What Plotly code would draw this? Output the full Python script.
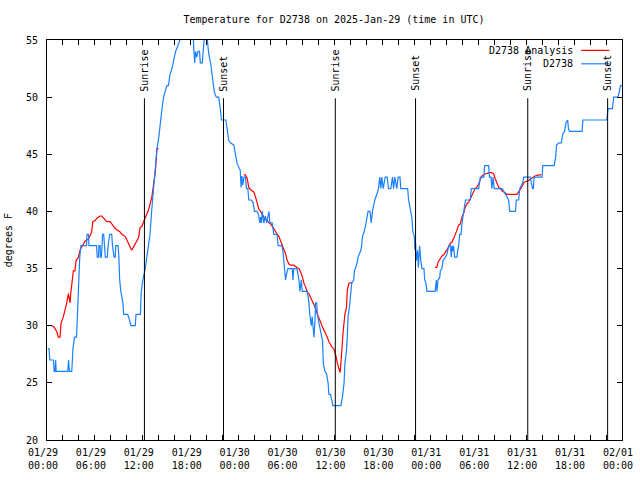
import datetime as dt
import plotly.graph_objects as go

START = dt.datetime(2025, 1, 29, 0, 0)

# Observed station temperatures (hours since 2025-01-29 00:00 UTC, degrees F)
obs_hours = [0.1, 0.25, 0.35, 0.8, 0.9, 1.0, 1.08, 1.15, 2.6, 2.7, 2.8, 3.1, 3.25, 3.45, 3.7, 3.8, 3.88, 3.95,
             4.1, 4.25, 4.95, 5.0, 5.2, 5.25, 6.2, 6.3, 6.45, 6.5, 6.65, 6.7, 6.8, 6.9, 6.95, 7.1, 7.2, 7.3,
             7.55, 7.65, 7.85, 8.1, 8.2, 8.4, 8.55, 8.6, 8.9, 9.0, 9.1, 9.25, 9.5, 9.6, 10.1, 10.3, 10.5,
             11.05, 11.15, 11.7, 11.8, 12.0, 12.3, 12.5, 12.7, 12.9, 13.1, 13.35, 13.55, 13.77, 14.0, 14.2,
             14.4, 14.6, 15.0, 15.2, 15.4, 15.65, 15.8, 16.1, 16.5, 16.7, 17.1, 17.6, 18.0, 18.3, 18.4, 18.5,
             18.6, 18.75, 18.9, 19.1, 19.2, 19.45, 19.55, 19.75, 20.0, 20.25, 20.5, 20.7, 20.85, 20.96, 21.2,
             21.5, 21.7, 21.84, 22.4, 22.55, 22.76, 22.97, 23.4, 23.6, 23.8, 24.2, 24.3, 24.4, 24.5, 24.65,
             24.85, 24.97, 25.15, 25.27, 25.56, 25.8, 25.98, 26.3, 26.5, 26.65, 26.75, 26.85, 26.95, 27.15,
             27.35, 27.5, 27.65, 27.8, 27.9, 28.2, 28.4, 28.8, 28.95, 29.4, 29.55, 29.66, 29.87, 29.99, 30.17,
             30.7, 30.8, 30.9, 31.3, 31.55, 31.67, 31.84, 31.97, 32.6, 32.8, 32.9, 33.1, 33.2, 33.35, 33.43,
             33.56, 33.62, 33.77, 33.85, 34.06, 34.27, 34.5, 34.6, 34.8, 35.0, 35.2, 35.3, 35.5, 35.8, 36.8,
             37.0, 37.2, 37.3, 37.5, 37.6, 37.7, 37.9, 38.0, 38.15, 38.4, 38.5, 38.8, 38.95, 39.3, 39.4, 39.5,
             39.7, 39.9, 40.0, 40.2, 40.45, 40.6, 40.75, 40.9, 41.05, 41.4, 41.5, 41.67, 41.8, 41.92, 42.1,
             42.35, 42.6, 42.76, 43.05, 43.26, 43.4, 43.55, 43.8, 43.97, 44.2, 44.3, 45.16, 45.28, 45.5, 45.7,
             45.8, 45.99, 46.07, 46.15, 46.24, 46.4, 46.5, 46.66, 46.8, 46.95, 47.2, 47.3, 47.45, 47.58, 48.6,
             48.75, 48.83, 48.96, 49.17, 49.25, 49.45, 49.58, 49.9, 50.1, 50.3, 50.5, 50.63, 50.7, 50.84, 50.9,
             51.05, 51.34, 51.42, 51.55, 51.67, 51.84, 51.97, 52.2, 52.4, 53.0, 53.13, 54.05, 54.26, 54.7,
             54.8, 55.3, 55.4, 55.6, 55.7, 55.85, 56.0, 57.0, 57.8, 57.94, 58.65, 58.77, 59.06, 59.2, 59.56,
             59.7, 60.5, 60.65, 60.8, 60.9, 61.0, 62.0, 62.07, 63.5, 63.7, 63.8, 64.1, 64.4, 64.6, 64.8, 65.0,
             65.2, 65.3, 65.45, 67.0, 67.1, 70.1, 70.25, 70.8, 70.97, 71.5, 71.7, 71.8, 72.0]
obs_temps = [28, 28, 27, 27, 26, 26, 27, 26, 26, 27, 26, 26, 28, 29, 29, 31, 33, 34,
             36, 37, 37, 38, 38, 37, 37, 36, 36, 37, 37, 36, 36, 37, 38, 38, 37, 36,
             36, 37, 38, 38, 37, 36, 36, 37, 37, 36, 34, 33, 32, 31, 31, 30.6, 30,
             30, 31, 31, 33, 34, 35, 36, 37, 38, 40, 42, 44, 45.5, 46.5, 48,
             49, 50, 51, 51, 52, 52.5, 53, 54, 54.7, 55.2, 56, 57, 56, 55.5, 54, 53,
             54, 53.5, 54, 54, 53, 53, 54, 55.5, 55.5, 53.8, 52.9, 52, 51.3, 50.4, 50,
             50, 49, 48, 48, 47.2, 46.2, 46, 45.8, 45, 44.2, 43.6, 42.1, 43.1, 42.3, 43,
             43, 42, 42, 41, 41, 40.8, 40, 40, 39.7, 39, 39.5, 39, 40, 39,
             39.6, 39, 39.5, 40, 39, 39, 38, 38, 37, 37, 36.5, 35.4, 34, 34.5, 35,
             35, 34, 35, 35, 34, 33, 34, 33, 33, 32, 31, 30, 30.8, 29.7, 29,
             30.5, 32, 32, 31, 30.2, 29.6, 28.7, 26.7, 26, 25.8, 25, 24, 24, 23, 23,
             23.8, 25, 26.7, 27.8, 29, 30.8, 31.8, 32.8, 33.7, 34, 34.8, 35.4, 36, 36.6, 37, 37.8,
             38.2, 38.8, 39.2, 40, 40, 39, 40, 40.7, 41, 41.7, 42, 43, 42, 43, 42,
             43, 43, 42, 42, 43, 42, 43, 42, 43, 43, 42, 42, 41, 40, 39.4,
             38.3, 37.8, 36.6, 37.2, 35.7, 36.6, 35.1, 37, 35.7, 35, 35, 34, 33.7, 33, 33,
             34, 33, 34, 34.2, 34.8, 35, 35.7, 36, 36.3, 37, 37, 36, 37, 36.5, 37,
             36, 36, 36.6, 37, 38, 38, 39, 40, 41, 41, 42, 42, 43, 43,
             44, 44, 43, 43, 42, 43, 42, 42, 41, 40, 40, 41, 41, 42, 42.5,
             43, 43, 42.5, 42, 42, 43, 43, 44, 44, 44.8, 45.8, 46, 46, 46.8, 47, 47.8,
             48, 47.2, 47, 47, 48, 48, 49, 49, 50, 50, 50.6, 51, 51]

# Analysis temperatures (None = no analysis value)
ana_hours = [0.59, 0.88, 1.21, 1.42, 1.63, 1.76, 2.05, 2.26, 2.47, 2.68, 2.89, 2.97, 3.1, 3.3, 3.5, 3.64,
             3.93, 4.14, 4.35, 4.56, 4.77, 4.98, 5.19, 5.4, 5.6, 5.73, 6.03, 6.23, 6.44, 6.65, 6.86, 7.07,
             7.28, 7.49, 7.9, 8.1, 8.33, 8.54, 8.74, 9.16, 9.37, 9.58, 9.8, 10.0, 10.2, 10.4, 10.6, 10.84,
             11.05, 11.26, 11.46, 11.67, 11.88, 12.1, 12.3, 12.5, 12.7, 12.93, 13.14, 13.35, 13.56, 13.77,
             13.97, 19.0,
             24.64, 24.85, 25.06, 25.27, 25.48, 25.69, 25.9, 26.1, 26.3, 26.53, 26.74, 27.15, 27.57, 28.0,
             28.4, 28.6, 28.83, 29.04, 29.25, 29.45, 29.66, 29.87, 30.08, 30.3, 30.5, 30.9, 31.3, 31.55,
             31.76, 31.97, 32.18, 32.38, 32.6, 32.8, 33.0, 33.2, 33.43, 33.64, 33.85, 34.06, 34.27, 34.48,
             34.7, 34.9, 35.1, 35.3, 35.5, 35.7, 35.9, 36.05, 36.2, 36.36, 36.57, 36.7, 36.8, 36.9, 37.0,
             37.1, 37.3, 37.5, 37.6, 37.8, 38.0, 38.16, 43.0,
             48.6, 48.8, 49.0, 49.25, 49.46, 49.67, 49.87, 50.08, 50.3, 50.5, 50.7, 50.9, 51.1, 51.3, 51.55,
             51.75, 51.96, 52.2, 52.38, 52.6, 52.8, 53.0, 53.2, 53.4, 53.6, 53.8, 54.05, 54.26, 54.47, 54.9,
             55.3, 55.5, 55.7, 55.93, 56.1, 56.35, 56.56, 56.77, 56.97, 57.2, 57.4, 57.6, 58.86, 59.07,
             59.27, 59.5, 59.7, 59.9, 60.3, 60.7, 61.1, 61.6, 61.9]
ana_temps = [30, 29.9, 29.5, 29, 29, 30.2, 30.8, 31.3, 32, 32.8, 32, 32.8, 33.7, 34.8, 34.8, 35.7,
             36, 36.6, 36.9, 37.2, 37.4, 37.5, 37.6, 37.9, 38.2, 39.1, 39.2, 39.4, 39.5, 39.6, 39.6, 39.4,
             39.3, 39.1, 39.1, 38.9, 38.6, 38.5, 38.4, 38.2, 38.0, 37.9, 37.8, 37.5, 37.2, 36.8, 36.6, 36.9,
             37.2, 37.5, 37.7, 38.6, 38.7, 39.1, 39.4, 39.7, 40.1, 40.7, 41.3, 42.4, 43.4, 45.5,
             45.5, None,
             43.2, 43.2, 42.9, 42.1, 41.9, 41.8, 41.7, 41.3, 40.7, 40.2, 40.0, 39.5, 39.2, 38.9,
             38.5, 38.2, 38.0, 37.8, 37.4, 37.1, 36.7, 36.3, 35.7, 35.4, 35.3, 35.3, 35.1, 35.0,
             34.7, 34.3, 33.7, 33.4, 32.9, 32.8, 32.5, 32.2, 31.9, 31.5, 31.0, 30.7, 30.3, 29.9,
             29.6, 29.3, 29.0, 28.6, 28.3, 28.1, 28.0, 27.7, 27.3, 26.7, 26.1, 25.9, 26.7, 28.4, 28.7,
             29.6, 31.0, 31.6, 33.1, 33.7, 33.8, 33.8, None,
             35.1, 35.1, 35.6, 35.9, 36.1, 36.2, 36.4, 36.6, 36.9, 37.2, 37.3, 37.6, 37.9, 38.3, 38.8,
             38.9, 39.5, 39.9, 40.4, 40.7, 40.8, 41.1, 41.4, 41.8, 42.0, 42.1, 42.4, 42.8, 43.1, 43.3,
             43.4, 43.4, 43.4, 43.3, 42.9, 42.4, 42.1, 42.0, 41.8, 41.7, 41.6, 41.5, 41.5, 41.7,
             41.9, 42.2, 42.5, 42.6, 42.7, 42.9, 43.1, 43.2, 43.2]

sun_labels = ["Sunrise", "Sunset", "Sunrise", "Sunset", "Sunrise", "Sunset"]
sun_hours = [12.2, 22.1, 36.1, 46.15, 60.2, 70.2]

tick_hours = list(range(0, 73, 2))
label_every = 6

station = "D2738"
title = "Temperature for D2738 on 2025-Jan-29 (time in UTC)"
y_label = "degrees F"

FONT = "DejaVu Sans Mono, Liberation Mono, monospace"
RED = "#ff0000"
BLUE = "#1a80ff"


def t(h):
    return START + dt.timedelta(hours=h)


fig = go.Figure()
fig.add_trace(go.Scatter(x=[t(h) for h in ana_hours], y=ana_temps, mode="lines",
                         line=dict(color=RED, width=1.2), connectgaps=False,
                         name=station + " Analysis", showlegend=False))
fig.add_trace(go.Scatter(x=[t(h) for h in obs_hours], y=obs_temps, mode="lines",
                         line=dict(color=BLUE, width=1.2), name=station, showlegend=False))

for lab, h in zip(sun_labels, sun_hours):
    fig.add_shape(type="line", xref="x", yref="y", x0=t(h), x1=t(h), y0=20, y1=49.9,
                  line=dict(color="black", width=1))
    fig.add_annotation(x=t(h), y=49.9, xref="x", yref="y", text=lab, textangle=-90,
                       showarrow=False, xanchor="center", yanchor="bottom", yshift=5,
                       font=dict(family=FONT, size=10, color="black"))

# legend drawn gnuplot-style (text, then sample line)
leg = [(station + " Analysis", RED, 0.974), (station, BLUE, 0.9405)]
for txt, col, yy in leg:
    fig.add_annotation(x=0.9187, y=yy, xref="paper", yref="paper", text=txt, showarrow=False,
                       xanchor="right", yanchor="middle",
                       font=dict(family=FONT, size=10, color="black"))
    fig.add_shape(type="line", xref="paper", yref="paper", x0=0.929, x1=0.978, y0=yy, y1=yy,
                  line=dict(color=col, width=1.2))

# y-axis label
fig.add_annotation(x=-0.0675, y=0.5, xref="paper", yref="paper", text=y_label, textangle=-90,
                   showarrow=False, xanchor="center", yanchor="middle",
                   font=dict(family=FONT, size=10, color="black"))

tickvals = [t(h) for h in tick_hours]
ticktext = [t(h).strftime("%m/%d") + "<br>" + t(h).strftime("%H:%M") if h % label_every == 0 else ""
            for h in tick_hours]

fig.update_layout(
    width=640, height=480,
    margin=dict(l=47, r=18, t=40, b=40, pad=0, autoexpand=False),
    paper_bgcolor="white", plot_bgcolor="white",
    font=dict(family=FONT, size=10, color="black"),
    title=dict(text=title, x=334 / 640, xanchor="center",
               y=1 - 19 / 480, yanchor="middle", font=dict(family=FONT, size=10, color="black")),
    showlegend=False,
)
fig.update_xaxes(range=[t(0), t(72)], tickvals=tickvals, ticktext=ticktext, automargin=False,
                 ticks="inside", ticklen=5, tickcolor="black", showline=True, linecolor="black",
                 linewidth=1, mirror="ticks", showgrid=False, zeroline=False,
                 tickfont=dict(family=FONT, size=10, color="black"), ticklabelshift=-4,
                 ticklabelstandoff=3)
fig.update_yaxes(range=[20, 55], tickvals=[20, 25, 30, 35, 40, 45, 50, 55], automargin=False,
                 ticks="inside", ticklen=5, tickcolor="black", showline=True, linecolor="black",
                 linewidth=1, mirror="ticks", showgrid=False, zeroline=False,
                 tickfont=dict(family=FONT, size=10, color="black"), ticklabelstandoff=6)

fig.write_html("out.html", config={"displayModeBar": False},
               post_script="document.body.style.margin='0';")
